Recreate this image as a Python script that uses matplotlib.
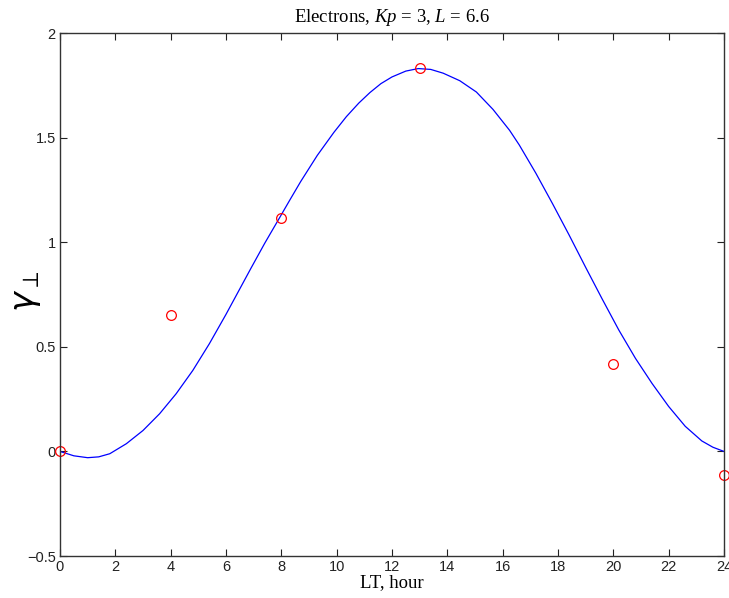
import matplotlib; matplotlib.use('agg')
import matplotlib.pyplot as plt

plt.rcParams['mathtext.fontset'] = 'custom'
plt.rcParams['mathtext.rm'] = 'Liberation Serif'
plt.rcParams['mathtext.it'] = 'Liberation Serif:italic'

# measured points (LT, gamma_perp)
lt_pts = [0, 4, 8, 13, 20, 24]
gam_pts = [0.0, 0.65, 1.115, 1.835, 0.42, -0.115]

# fitted curve
lt_fit = [0, 0.5, 1.0, 1.4, 1.8, 2.4, 3.0, 3.6, 4.2, 4.8, 5.4, 6.0, 6.45, 6.9,
          7.4, 7.95, 8.3, 8.7, 9.3, 9.9, 10.35, 10.8, 11.2, 11.6, 12.0, 12.5,
          12.95, 13.4, 13.85, 14.45, 15.05, 15.65, 16.25, 16.6, 17.2, 17.8,
          18.4, 19.0, 19.6, 20.2, 20.8, 21.4, 22.0, 22.6, 23.2, 23.6, 24.0]
gam_fit = [0.0, -0.021, -0.03, -0.026, -0.011, 0.037, 0.10, 0.18, 0.276, 0.387,
           0.515, 0.655, 0.765, 0.875, 0.995, 1.12, 1.20, 1.29, 1.415, 1.525,
           1.60, 1.665, 1.715, 1.758, 1.79, 1.818, 1.83, 1.826, 1.808, 1.772,
           1.718, 1.635, 1.535, 1.465, 1.33, 1.185, 1.035, 0.88, 0.728, 0.58,
           0.445, 0.325, 0.215, 0.12, 0.05, 0.02, 0.0]

fig = plt.figure(figsize=(7.29, 5.98), dpi=100)
ax = fig.add_axes([0.0823, 0.0702, 0.9108, 0.8746])

ax.plot(lt_fit, gam_fit, '-', color='#0000ff', lw=0.9)
ax.plot(lt_pts, gam_pts, 'o', mfc='none', mec='red', ms=7, mew=0.9, clip_on=False)

ax.set_xlim(0, 24)
ax.set_ylim(-0.5, 2)
ax.set_xticks(range(0, 25, 2))
ax.set_yticks([-0.5, 0, 0.5, 1, 1.5, 2])
ax.set_yticklabels(['\u22120.5', '0', '0.5', '1', '1.5', '2'])
ax.tick_params(direction='in', top=True, right=True, length=5, width=0.8,
               labelsize=10.5, colors='#222222', pad=3)
for lab in ax.get_xticklabels() + ax.get_yticklabels():
    lab.set_family('Liberation Sans')
for s in ax.spines.values():
    s.set_color('#333333')
    s.set_linewidth(1.0)

ax.set_title('Electrons, $Kp$ = 3, $L$ = 6.6', fontsize=13.5,
             family='Liberation Serif', pad=8)
ax.set_xlabel('LT, hour', fontsize=13.5, family='Liberation Serif', labelpad=0)
fig.text(0.036, 0.512, r'$\gamma_{\perp}$', fontsize=24, math_fontfamily='dejavusans',
         rotation=90, ha='center', va='center')

plt.savefig('out.png', dpi=100)
